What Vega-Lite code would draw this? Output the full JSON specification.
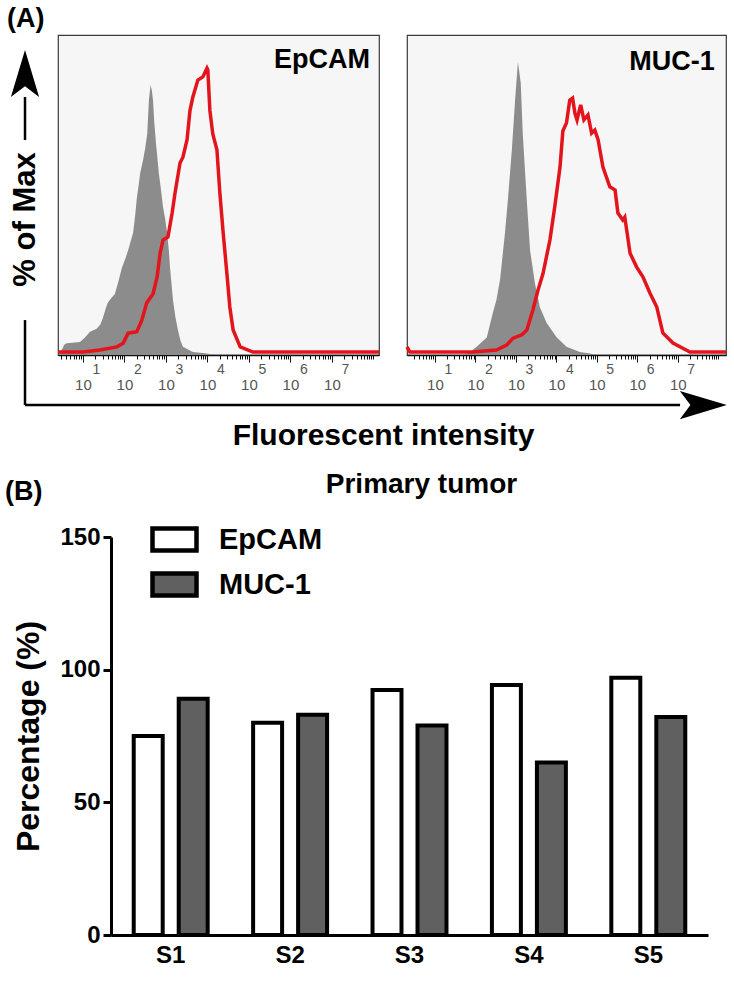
{
  "$schema": "https://vega.github.io/schema/vega-lite/v6.json",
  "padding": {"left": 5, "top": 5, "right": 2, "bottom": 2},
  "config": {"font": "Liberation Sans", "view": {"stroke": null}, "axis": {"grid": false}},
  "datasets": {
    "hist": [
      {"panel": "EpCAM", "series": "Isotype control", "log_fi": 0.40, "pct": 0},
      {"panel": "EpCAM", "series": "Isotype control", "log_fi": 0.45, "pct": 0.5},
      {"panel": "EpCAM", "series": "Isotype control", "log_fi": 0.55, "pct": 3.5},
      {"panel": "EpCAM", "series": "Isotype control", "log_fi": 0.61, "pct": 4},
      {"panel": "EpCAM", "series": "Isotype control", "log_fi": 0.75, "pct": 4.2},
      {"panel": "EpCAM", "series": "Isotype control", "log_fi": 0.93, "pct": 4.5},
      {"panel": "EpCAM", "series": "Isotype control", "log_fi": 1.05, "pct": 6},
      {"panel": "EpCAM", "series": "Isotype control", "log_fi": 1.17, "pct": 8},
      {"panel": "EpCAM", "series": "Isotype control", "log_fi": 1.33, "pct": 9},
      {"panel": "EpCAM", "series": "Isotype control", "log_fi": 1.42, "pct": 10.5},
      {"panel": "EpCAM", "series": "Isotype control", "log_fi": 1.48, "pct": 12.6},
      {"panel": "EpCAM", "series": "Isotype control", "log_fi": 1.55, "pct": 16},
      {"panel": "EpCAM", "series": "Isotype control", "log_fi": 1.60, "pct": 18},
      {"panel": "EpCAM", "series": "Isotype control", "log_fi": 1.68, "pct": 19.5},
      {"panel": "EpCAM", "series": "Isotype control", "log_fi": 1.77, "pct": 21},
      {"panel": "EpCAM", "series": "Isotype control", "log_fi": 1.85, "pct": 25},
      {"panel": "EpCAM", "series": "Isotype control", "log_fi": 1.94, "pct": 30},
      {"panel": "EpCAM", "series": "Isotype control", "log_fi": 2.02, "pct": 33},
      {"panel": "EpCAM", "series": "Isotype control", "log_fi": 2.09, "pct": 36},
      {"panel": "EpCAM", "series": "Isotype control", "log_fi": 2.15, "pct": 39},
      {"panel": "EpCAM", "series": "Isotype control", "log_fi": 2.21, "pct": 42},
      {"panel": "EpCAM", "series": "Isotype control", "log_fi": 2.26, "pct": 48},
      {"panel": "EpCAM", "series": "Isotype control", "log_fi": 2.30, "pct": 54},
      {"panel": "EpCAM", "series": "Isotype control", "log_fi": 2.34, "pct": 58},
      {"panel": "EpCAM", "series": "Isotype control", "log_fi": 2.38, "pct": 62.5},
      {"panel": "EpCAM", "series": "Isotype control", "log_fi": 2.45, "pct": 67},
      {"panel": "EpCAM", "series": "Isotype control", "log_fi": 2.50, "pct": 71},
      {"panel": "EpCAM", "series": "Isotype control", "log_fi": 2.55, "pct": 76},
      {"panel": "EpCAM", "series": "Isotype control", "log_fi": 2.59, "pct": 87.6},
      {"panel": "EpCAM", "series": "Isotype control", "log_fi": 2.63, "pct": 92.8},
      {"panel": "EpCAM", "series": "Isotype control", "log_fi": 2.66, "pct": 91},
      {"panel": "EpCAM", "series": "Isotype control", "log_fi": 2.69, "pct": 87.6},
      {"panel": "EpCAM", "series": "Isotype control", "log_fi": 2.72, "pct": 80},
      {"panel": "EpCAM", "series": "Isotype control", "log_fi": 2.76, "pct": 73},
      {"panel": "EpCAM", "series": "Isotype control", "log_fi": 2.83, "pct": 62.5},
      {"panel": "EpCAM", "series": "Isotype control", "log_fi": 2.88, "pct": 57},
      {"panel": "EpCAM", "series": "Isotype control", "log_fi": 2.93, "pct": 51},
      {"panel": "EpCAM", "series": "Isotype control", "log_fi": 2.98, "pct": 47},
      {"panel": "EpCAM", "series": "Isotype control", "log_fi": 3.03, "pct": 42},
      {"panel": "EpCAM", "series": "Isotype control", "log_fi": 3.07, "pct": 36},
      {"panel": "EpCAM", "series": "Isotype control", "log_fi": 3.10, "pct": 30},
      {"panel": "EpCAM", "series": "Isotype control", "log_fi": 3.17, "pct": 19},
      {"panel": "EpCAM", "series": "Isotype control", "log_fi": 3.23, "pct": 13},
      {"panel": "EpCAM", "series": "Isotype control", "log_fi": 3.29, "pct": 8.6},
      {"panel": "EpCAM", "series": "Isotype control", "log_fi": 3.35, "pct": 5},
      {"panel": "EpCAM", "series": "Isotype control", "log_fi": 3.41, "pct": 2.8},
      {"panel": "EpCAM", "series": "Isotype control", "log_fi": 3.65, "pct": 1},
      {"panel": "EpCAM", "series": "Isotype control", "log_fi": 3.99, "pct": 0.5},
      {"panel": "EpCAM", "series": "Isotype control", "log_fi": 4.20, "pct": 0},
      {"panel": "EpCAM", "series": "Isotype control", "log_fi": 8.135, "pct": 0},
      {"panel": "EpCAM", "series": "Stained", "log_fi": 0.40, "pct": 1},
      {"panel": "EpCAM", "series": "Stained", "log_fi": 1.00, "pct": 1},
      {"panel": "EpCAM", "series": "Stained", "log_fi": 1.41, "pct": 1.7},
      {"panel": "EpCAM", "series": "Stained", "log_fi": 1.82, "pct": 2.8},
      {"panel": "EpCAM", "series": "Stained", "log_fi": 1.97, "pct": 4},
      {"panel": "EpCAM", "series": "Stained", "log_fi": 2.09, "pct": 7.5},
      {"panel": "EpCAM", "series": "Stained", "log_fi": 2.30, "pct": 8},
      {"panel": "EpCAM", "series": "Stained", "log_fi": 2.42, "pct": 12},
      {"panel": "EpCAM", "series": "Stained", "log_fi": 2.54, "pct": 18},
      {"panel": "EpCAM", "series": "Stained", "log_fi": 2.69, "pct": 21},
      {"panel": "EpCAM", "series": "Stained", "log_fi": 2.79, "pct": 27},
      {"panel": "EpCAM", "series": "Stained", "log_fi": 2.86, "pct": 35},
      {"panel": "EpCAM", "series": "Stained", "log_fi": 2.93, "pct": 39.5},
      {"panel": "EpCAM", "series": "Stained", "log_fi": 3.05, "pct": 40.6},
      {"panel": "EpCAM", "series": "Stained", "log_fi": 3.15, "pct": 48.8},
      {"panel": "EpCAM", "series": "Stained", "log_fi": 3.22, "pct": 55.7},
      {"panel": "EpCAM", "series": "Stained", "log_fi": 3.34, "pct": 66},
      {"panel": "EpCAM", "series": "Stained", "log_fi": 3.41, "pct": 68},
      {"panel": "EpCAM", "series": "Stained", "log_fi": 3.51, "pct": 74},
      {"panel": "EpCAM", "series": "Stained", "log_fi": 3.58, "pct": 84},
      {"panel": "EpCAM", "series": "Stained", "log_fi": 3.65, "pct": 88.7},
      {"panel": "EpCAM", "series": "Stained", "log_fi": 3.77, "pct": 94.5},
      {"panel": "EpCAM", "series": "Stained", "log_fi": 3.89, "pct": 95.6},
      {"panel": "EpCAM", "series": "Stained", "log_fi": 3.99, "pct": 98.6},
      {"panel": "EpCAM", "series": "Stained", "log_fi": 4.01, "pct": 98},
      {"panel": "EpCAM", "series": "Stained", "log_fi": 4.06, "pct": 84},
      {"panel": "EpCAM", "series": "Stained", "log_fi": 4.13, "pct": 76},
      {"panel": "EpCAM", "series": "Stained", "log_fi": 4.23, "pct": 70.5},
      {"panel": "EpCAM", "series": "Stained", "log_fi": 4.30, "pct": 55.7},
      {"panel": "EpCAM", "series": "Stained", "log_fi": 4.38, "pct": 42},
      {"panel": "EpCAM", "series": "Stained", "log_fi": 4.47, "pct": 28},
      {"panel": "EpCAM", "series": "Stained", "log_fi": 4.54, "pct": 16.5},
      {"panel": "EpCAM", "series": "Stained", "log_fi": 4.62, "pct": 8.6},
      {"panel": "EpCAM", "series": "Stained", "log_fi": 4.79, "pct": 2.8},
      {"panel": "EpCAM", "series": "Stained", "log_fi": 5.10, "pct": 1},
      {"panel": "EpCAM", "series": "Stained", "log_fi": 8.135, "pct": 1},
      {"panel": "MUC-1", "series": "Isotype control", "log_fi": 0.31, "pct": 0},
      {"panel": "MUC-1", "series": "Isotype control", "log_fi": 1.70, "pct": 0},
      {"panel": "MUC-1", "series": "Isotype control", "log_fi": 1.87, "pct": 1},
      {"panel": "MUC-1", "series": "Isotype control", "log_fi": 2.03, "pct": 2.8},
      {"panel": "MUC-1", "series": "Isotype control", "log_fi": 2.28, "pct": 6},
      {"panel": "MUC-1", "series": "Isotype control", "log_fi": 2.43, "pct": 14.4},
      {"panel": "MUC-1", "series": "Isotype control", "log_fi": 2.52, "pct": 19},
      {"panel": "MUC-1", "series": "Isotype control", "log_fi": 2.61, "pct": 26},
      {"panel": "MUC-1", "series": "Isotype control", "log_fi": 2.73, "pct": 42},
      {"panel": "MUC-1", "series": "Isotype control", "log_fi": 2.80, "pct": 53},
      {"panel": "MUC-1", "series": "Isotype control", "log_fi": 2.90, "pct": 70.5},
      {"panel": "MUC-1", "series": "Isotype control", "log_fi": 2.98, "pct": 87.6},
      {"panel": "MUC-1", "series": "Isotype control", "log_fi": 3.05, "pct": 100.7},
      {"panel": "MUC-1", "series": "Isotype control", "log_fi": 3.12, "pct": 93.5},
      {"panel": "MUC-1", "series": "Isotype control", "log_fi": 3.17, "pct": 76},
      {"panel": "MUC-1", "series": "Isotype control", "log_fi": 3.27, "pct": 53},
      {"panel": "MUC-1", "series": "Isotype control", "log_fi": 3.35, "pct": 36},
      {"panel": "MUC-1", "series": "Isotype control", "log_fi": 3.47, "pct": 24.7},
      {"panel": "MUC-1", "series": "Isotype control", "log_fi": 3.59, "pct": 16.5},
      {"panel": "MUC-1", "series": "Isotype control", "log_fi": 3.76, "pct": 11},
      {"panel": "MUC-1", "series": "Isotype control", "log_fi": 4.01, "pct": 6},
      {"panel": "MUC-1", "series": "Isotype control", "log_fi": 4.25, "pct": 2.8},
      {"panel": "MUC-1", "series": "Isotype control", "log_fi": 4.58, "pct": 1},
      {"panel": "MUC-1", "series": "Isotype control", "log_fi": 4.83, "pct": 0.5},
      {"panel": "MUC-1", "series": "Isotype control", "log_fi": 5.00, "pct": 0},
      {"panel": "MUC-1", "series": "Isotype control", "log_fi": 8.19, "pct": 0},
      {"panel": "MUC-1", "series": "Stained", "log_fi": 0.31, "pct": 2.8},
      {"panel": "MUC-1", "series": "Stained", "log_fi": 0.38, "pct": 1},
      {"panel": "MUC-1", "series": "Stained", "log_fi": 1.94, "pct": 1},
      {"panel": "MUC-1", "series": "Stained", "log_fi": 2.52, "pct": 1.7},
      {"panel": "MUC-1", "series": "Stained", "log_fi": 2.77, "pct": 3.4},
      {"panel": "MUC-1", "series": "Stained", "log_fi": 2.93, "pct": 5.8},
      {"panel": "MUC-1", "series": "Stained", "log_fi": 3.14, "pct": 6.9},
      {"panel": "MUC-1", "series": "Stained", "log_fi": 3.27, "pct": 8.6},
      {"panel": "MUC-1", "series": "Stained", "log_fi": 3.42, "pct": 15.5},
      {"panel": "MUC-1", "series": "Stained", "log_fi": 3.54, "pct": 22},
      {"panel": "MUC-1", "series": "Stained", "log_fi": 3.67, "pct": 28},
      {"panel": "MUC-1", "series": "Stained", "log_fi": 3.84, "pct": 39.5},
      {"panel": "MUC-1", "series": "Stained", "log_fi": 3.96, "pct": 51},
      {"panel": "MUC-1", "series": "Stained", "log_fi": 4.09, "pct": 64.6},
      {"panel": "MUC-1", "series": "Stained", "log_fi": 4.16, "pct": 77},
      {"panel": "MUC-1", "series": "Stained", "log_fi": 4.25, "pct": 79.8},
      {"panel": "MUC-1", "series": "Stained", "log_fi": 4.33, "pct": 87.6},
      {"panel": "MUC-1", "series": "Stained", "log_fi": 4.40, "pct": 88.3},
      {"panel": "MUC-1", "series": "Stained", "log_fi": 4.46, "pct": 83},
      {"panel": "MUC-1", "series": "Stained", "log_fi": 4.51, "pct": 80.8},
      {"panel": "MUC-1", "series": "Stained", "log_fi": 4.60, "pct": 86},
      {"panel": "MUC-1", "series": "Stained", "log_fi": 4.68, "pct": 80.8},
      {"panel": "MUC-1", "series": "Stained", "log_fi": 4.78, "pct": 82.5},
      {"panel": "MUC-1", "series": "Stained", "log_fi": 4.87, "pct": 76.3},
      {"panel": "MUC-1", "series": "Stained", "log_fi": 4.95, "pct": 77.3},
      {"panel": "MUC-1", "series": "Stained", "log_fi": 5.03, "pct": 74},
      {"panel": "MUC-1", "series": "Stained", "log_fi": 5.15, "pct": 64.6},
      {"panel": "MUC-1", "series": "Stained", "log_fi": 5.32, "pct": 57.8},
      {"panel": "MUC-1", "series": "Stained", "log_fi": 5.45, "pct": 56.7},
      {"panel": "MUC-1", "series": "Stained", "log_fi": 5.52, "pct": 48.8},
      {"panel": "MUC-1", "series": "Stained", "log_fi": 5.64, "pct": 46.4},
      {"panel": "MUC-1", "series": "Stained", "log_fi": 5.69, "pct": 47.4},
      {"panel": "MUC-1", "series": "Stained", "log_fi": 5.82, "pct": 35},
      {"panel": "MUC-1", "series": "Stained", "log_fi": 5.98, "pct": 30.3},
      {"panel": "MUC-1", "series": "Stained", "log_fi": 6.14, "pct": 26.8},
      {"panel": "MUC-1", "series": "Stained", "log_fi": 6.31, "pct": 21.3},
      {"panel": "MUC-1", "series": "Stained", "log_fi": 6.48, "pct": 16.5},
      {"panel": "MUC-1", "series": "Stained", "log_fi": 6.63, "pct": 7.6},
      {"panel": "MUC-1", "series": "Stained", "log_fi": 6.88, "pct": 4.1},
      {"panel": "MUC-1", "series": "Stained", "log_fi": 7.30, "pct": 1},
      {"panel": "MUC-1", "series": "Stained", "log_fi": 8.19, "pct": 1}
    ],
    "bars": [
      {"sample": "S1", "marker": "EpCAM", "value": 75},
      {"sample": "S1", "marker": "MUC-1", "value": 89},
      {"sample": "S2", "marker": "EpCAM", "value": 80},
      {"sample": "S2", "marker": "MUC-1", "value": 83},
      {"sample": "S3", "marker": "EpCAM", "value": 92.3},
      {"sample": "S3", "marker": "MUC-1", "value": 79},
      {"sample": "S4", "marker": "EpCAM", "value": 94.2},
      {"sample": "S4", "marker": "MUC-1", "value": 65},
      {"sample": "S5", "marker": "EpCAM", "value": 97},
      {"sample": "S5", "marker": "MUC-1", "value": 82.2}
    ]
  },
  "bounds": "flush",
  "spacing": 502,
  "resolve": {"legend": {"fill": "independent"}},
  "vconcat": [
    {
      "title": {"text": "(A)", "anchor": "start", "frame": "group", "dx": -51, "offset": -20, "baseline": "alphabetic", "fontSize": 27, "fontWeight": "bold", "color": "#000"},
      "bounds": "flush",
      "spacing": 28,
      "hconcat": [
        {
          "width": 321,
          "height": 320,
          "view": {"fill": "#f6f6f6", "stroke": "#3a3a3a", "strokeWidth": 1.2},
          "title": {"text": "EpCAM", "anchor": "end", "frame": "group", "dx": -9, "offset": -60, "baseline": "alphabetic", "fontSize": 27, "fontWeight": "bold", "color": "#000"},
          "data": {"name": "hist"},
          "transform": [{"filter": "datum.panel === 'EpCAM'"}],
          "resolve": {"axis": {"x": "independent"}},
          "layer": [
            {
              "transform": [{"filter": "datum.series === 'Isotype control'"}],
              "mark": {"type": "area", "color": "#8c8c8c", "interpolate": "linear"},
              "encoding": {
                "x": {"field": "log_fi", "type": "quantitative", "scale": {"domain": [0.4, 8.135], "nice": false, "zero": false},
                  "axis": {"orient": "bottom", "values": [1, 2, 3, 4, 5, 6, 7], "labelExpr": "'10'",
                    "labelAlign": "center", "labelFontSize": 15, "labelColor": "#555", "labelPadding": 15, "labelOverlap": false, "labelFlush": false,
                    "tickSize": 7, "tickColor": "#111", "domainColor": "#111", "domainWidth": 1.5,
                    "title": "Fluorescent intensity", "titleFontSize": 30, "titleFontWeight": "bold", "titleColor": "#000", "titleX": 325, "titleY": 89, "titleAlign": "center", "titleBaseline": "alphabetic"}},
                "y": {"field": "pct", "type": "quantitative", "scale": {"domain": [0, 110], "nice": false},
                  "axis": {"labels": false, "ticks": false, "domain": false, "title": "% of Max", "titleFontSize": 31, "titleFontWeight": "bold", "titleColor": "#000", "titleAngle": 270, "titleX": -24, "titleY": 184, "titleAlign": "center", "titleBaseline": "alphabetic"}}
              }
            },
            {
              "transform": [{"filter": "datum.series === 'Stained'"}],
              "mark": {"type": "line", "color": "#e3141b", "strokeWidth": 3.5, "interpolate": "linear"},
              "encoding": {
                "x": {"field": "log_fi", "type": "quantitative",
                  "axis": {"orient": "bottom", "values": [0.477,0.602,0.699,0.778,0.845,0.903,0.954,1.301,1.477,1.602,1.699,1.778,1.845,1.903,1.954,2.301,2.477,2.602,2.699,2.778,2.845,2.903,2.954,3.301,3.477,3.602,3.699,3.778,3.845,3.903,3.954,4.301,4.477,4.602,4.699,4.778,4.845,4.903,4.954,5.301,5.477,5.602,5.699,5.778,5.845,5.903,5.954,6.301,6.477,6.602,6.699,6.778,6.845,6.903,6.954,7.301,7.477,7.602,7.699,7.778,7.845,7.903,7.954,8],
                    "labels": false, "domain": false, "tickSize": 4, "tickColor": "#111", "title": null}},
                "y": {"field": "pct", "type": "quantitative"}
              }
            },
            {
              "data": {"values": [{}]},
              "mark": {"type": "rule", "color": "#000", "strokeWidth": 2.5},
              "encoding": {
                "x": {"datum": -0.395, "axis": {"orient": "bottom", "values": [1, 2, 3, 4, 5, 6, 7], "labelExpr": "datum.value", "labelAlign": "left", "labelOffset": 9, "labelFontSize": 14, "labelColor": "#555", "labelPadding": 7, "labelOverlap": false, "labelFlush": false, "ticks": false, "tickSize": 0, "domain": false, "title": null}},
                "y": {"datum": -17.2}, "y2": {"datum": 12.0}}
            },
            {
              "data": {"values": [{}]},
              "mark": {"type": "rule", "color": "#000", "strokeWidth": 2.5},
              "encoding": {"x": {"datum": -0.395, "axis": null}, "y": {"datum": 73.9}, "y2": {"datum": 88.7}}
            },
            {
              "data": {"values": [{}]},
              "mark": {"type": "rule", "color": "#000", "strokeWidth": 2.5},
              "encoding": {"x": {"datum": -0.395, "axis": null}, "x2": {"datum": 15.39}, "y": {"datum": -17.2}}
            },
            {
              "data": {"values": [{}]},
              "mark": {"type": "point", "shape": "M0,-1L0.6,1L0,0.55L-0.6,1Z", "filled": true, "color": "#000", "opacity": 1, "size": 2209},
              "encoding": {"x": {"datum": -0.395, "axis": null}, "y": {"datum": 96.8}}
            },
            {
              "data": {"values": [{}]},
              "mark": {"type": "point", "shape": "M1,0L-1,-0.6L-0.55,0L-1,0.6Z", "filled": true, "color": "#000", "opacity": 1, "size": 2209},
              "encoding": {"x": {"datum": 15.95, "axis": null}, "y": {"datum": -17.2}}
            }
          ]
        },
        {
          "width": 319,
          "height": 320,
          "view": {"fill": "#f6f6f6", "stroke": "#3a3a3a", "strokeWidth": 1.2},
          "data": {"name": "hist"},
          "transform": [{"filter": "datum.panel === 'MUC-1'"}],
          "resolve": {"axis": {"x": "independent"}},
          "layer": [
            {
              "transform": [{"filter": "datum.series === 'Isotype control'"}],
              "mark": {"type": "area", "color": "#8c8c8c", "interpolate": "linear"},
              "encoding": {
                "x": {"field": "log_fi", "type": "quantitative", "scale": {"domain": [0.31, 8.19], "nice": false, "zero": false},
                  "axis": {"orient": "bottom", "values": [1, 2, 3, 4, 5, 6, 7], "labelExpr": "'10'",
                    "labelAlign": "center", "labelFontSize": 15, "labelColor": "#555", "labelPadding": 15, "labelOverlap": false, "labelFlush": false,
                    "tickSize": 7, "tickColor": "#111", "domainColor": "#111", "domainWidth": 1.5, "title": null}},
                "y": {"field": "pct", "type": "quantitative", "scale": {"domain": [0, 110], "nice": false}, "axis": null}
              }
            },
            {
              "transform": [{"filter": "datum.series === 'Stained'"}],
              "mark": {"type": "line", "color": "#e3141b", "strokeWidth": 3.5, "interpolate": "linear"},
              "encoding": {
                "x": {"field": "log_fi", "type": "quantitative",
                  "axis": {"orient": "bottom", "values": [0.477,0.602,0.699,0.778,0.845,0.903,0.954,1.301,1.477,1.602,1.699,1.778,1.845,1.903,1.954,2.301,2.477,2.602,2.699,2.778,2.845,2.903,2.954,3.301,3.477,3.602,3.699,3.778,3.845,3.903,3.954,4.301,4.477,4.602,4.699,4.778,4.845,4.903,4.954,5.301,5.477,5.602,5.699,5.778,5.845,5.903,5.954,6.301,6.477,6.602,6.699,6.778,6.845,6.903,6.954,7.301,7.477,7.602,7.699,7.778,7.845,7.903,7.954,8],
                    "labels": false, "domain": false, "tickSize": 4, "tickColor": "#111", "title": null}},
                "y": {"field": "pct", "type": "quantitative"}
              }
            },
            {
              "data": {"values": [{"marker": "MUC-1"}]},
              "mark": {"type": "text", "align": "right", "baseline": "alphabetic", "fontSize": 27, "fontWeight": "bold", "color": "#000"},
              "encoding": {
                "x": {"datum": 7.915, "axis": {"orient": "bottom", "values": [1, 2, 3, 4, 5, 6, 7], "labelExpr": "datum.value", "labelAlign": "left", "labelOffset": 9, "labelFontSize": 14, "labelColor": "#555", "labelPadding": 7, "labelOverlap": false, "labelFlush": false, "ticks": false, "tickSize": 0, "domain": false, "title": null}},
                "y": {"datum": 98},
                "text": {"field": "marker"}
              }
            }
          ]
        }
      ]
    },
    {
      "bounds": "flush",
      "spacing": 0,
      "resolve": {"legend": {"fill": "independent"}},
      "hconcat": [
        {
          "width": 53,
          "height": 398,
          "title": {"text": "(B)", "anchor": "start", "frame": "group", "dx": -53, "offset": 10, "baseline": "alphabetic", "fontSize": 27, "fontWeight": "bold", "color": "#000"},
          "data": {"values": [{}]},
          "mark": {"type": "point", "opacity": 0},
          "encoding": {}
        },
        {
          "width": 597,
          "height": 398,
          "data": {"name": "bars"},
          "title": {"text": "Primary tumor", "anchor": "middle", "frame": "group", "dx": 12, "offset": -6, "baseline": "alphabetic", "fontSize": 28, "fontWeight": "bold", "color": "#000"},
          "mark": {"type": "bar", "stroke": "#000", "strokeWidth": 4, "strokeJoin": "miter"},
          "encoding": {
            "x": {"field": "sample", "type": "nominal", "scale": {"paddingInner": 0, "paddingOuter": 0},
              "axis": {"title": null, "labelAngle": 0, "labelFontSize": 24, "labelFontWeight": "bold", "labelColor": "#000", "labelPadding": 8, "ticks": false, "domainColor": "#000", "domainWidth": 3}},
            "xOffset": {"field": "marker", "type": "nominal", "scale": {"domain": ["EpCAM", "MUC-1"], "paddingInner": 0.356, "paddingOuter": 0.505}},
            "y": {"field": "value", "type": "quantitative", "scale": {"domain": [0, 150], "nice": false},
              "axis": {"values": [0, 50, 100, 150], "title": "Percentage (%)", "titleFontSize": 32, "titleFontWeight": "bold", "titleColor": "#000", "titleAngle": 270, "titleX": -73, "titleY": 199, "titleAlign": "center", "titleBaseline": "alphabetic",
                "labelFontSize": 24, "labelFontWeight": "bold", "labelColor": "#000", "labelPadding": 3, "tickSize": 8, "tickWidth": 3, "tickColor": "#000", "domainColor": "#000", "domainWidth": 3}},
            "fill": {"field": "marker", "type": "nominal", "scale": {"domain": ["EpCAM", "MUC-1"], "range": ["#ffffff", "#606060"]},
              "legend": {"title": null, "orient": "none", "legendX": 39, "legendY": -22, "symbolType": "M-1,-0.5H1V0.5H-1Z", "symbolSize": 1936, "symbolStrokeColor": "#000", "symbolStrokeWidth": 4.5, "symbolOpacity": 1, "labelFontSize": 29, "labelFontWeight": "bold", "labelColor": "#000", "labelOffset": 20, "rowPadding": 0, "padding": 0}}
          }
        }
      ]
    }
  ]
}
